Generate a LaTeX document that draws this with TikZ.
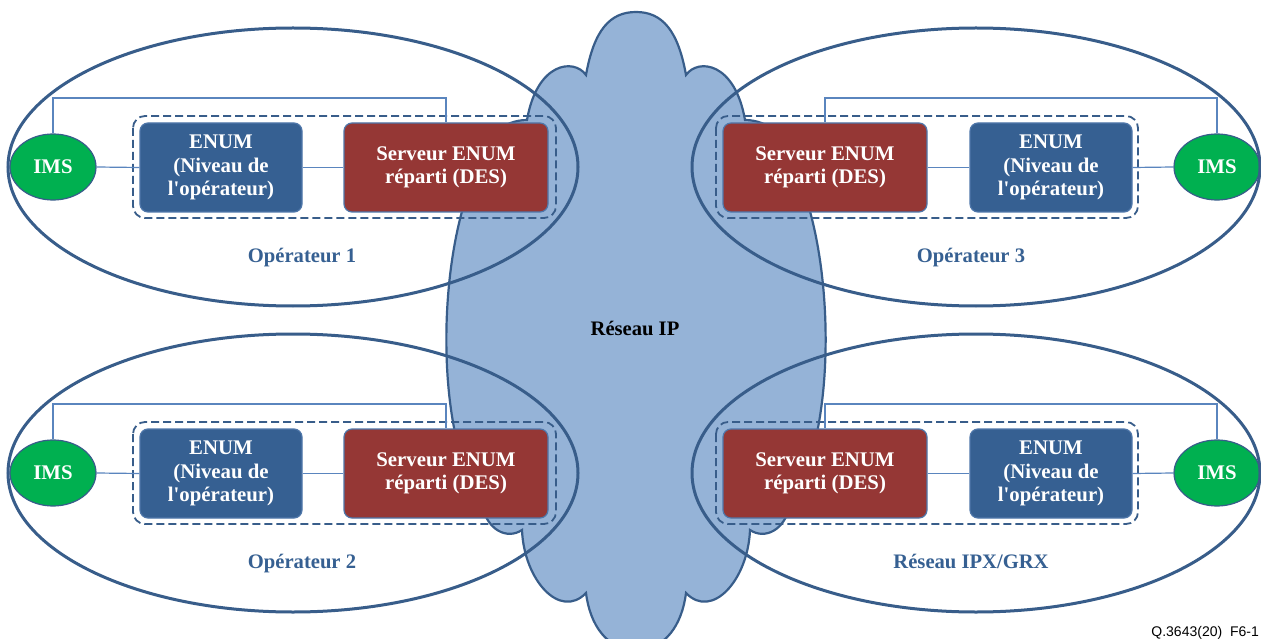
\documentclass[tikz,border=0pt]{standalone}
\usepackage{fontspec}
\setmainfont{Liberation Serif}[Ligatures=TeXOff]
\newfontfamily\notefont{Liberation Sans}
\usetikzlibrary{shapes.geometric}
\definecolor{edgeblue}{HTML}{385D8A}
\definecolor{cloudfill}{HTML}{95B3D7}
\definecolor{enumfill}{HTML}{366092}
\definecolor{servfill}{HTML}{953735}
\definecolor{imsfill}{HTML}{00B050}
\definecolor{linkblue}{HTML}{5A85BE}
\definecolor{boxedge}{HTML}{4F77AA}
\tikzset{
  boxtext/.style={font=\fontsize{20.8}{23.5}\selectfont\bfseries, text=white, align=center},
  enumbox/.style={boxtext, draw=boxedge, line width=1.2pt, fill=enumfill, rounded corners=8pt, minimum width=162pt, minimum height=89pt, inner sep=0pt},
  servbox/.style={boxtext, draw=boxedge, line width=1.2pt, fill=servfill, rounded corners=8pt, minimum width=204pt, minimum height=89pt, inner sep=0pt},
  imsnode/.style={ellipse, boxtext, draw=edgeblue, line width=1.2pt, fill=imsfill, minimum width=86pt, minimum height=66pt, inner sep=0pt},
  dashbox/.style={draw=edgeblue, line width=1.8pt, dash pattern=on 8pt off 4pt, rounded corners=12pt},
  link/.style={draw=linkblue, line width=1.2pt},
  opzone/.style={draw=edgeblue, line width=3pt},
  oplabel/.style={font=\fontsize{20.6}{24}\selectfont\bfseries, text=enumfill, anchor=base, inner sep=0pt},
}
\begin{document}
\begin{tikzpicture}[x=1pt, y=-1pt]
\clip (0,0) rectangle (1261,639);
\fill[white] (0,0) rectangle (1261,639);
% cloud
\draw[fill=cloudfill, draw=edgeblue, line width=2.2pt]
  (636,12) .. controls (662,12) and (678,30) .. (686,75)
  .. controls (698,58) and (735,62) .. (745,120)
  .. controls (770,120) and (790,140) .. (790,160)
  .. controls (835,240) and (840,430) .. (790,505)
  .. controls (785,530) and (765,540) .. (750,530)
  .. controls (748,580) and (712,620) .. (686,593)
  .. controls (682,625) and (665,650) .. (636,650)
  .. controls (607,650) and (590,625) .. (586,593)
  .. controls (560,620) and (524,580) .. (522,530)
  .. controls (507,540) and (487,530) .. (482,505)
  .. controls (432,430) and (437,240) .. (482,160)
  .. controls (482,140) and (502,120) .. (527,120)
  .. controls (537,62) and (574,58) .. (586,75)
  .. controls (594,30) and (610,12) .. (636,12) -- cycle;
\node[font=\fontsize{20.6}{24}\selectfont\bfseries, anchor=base, inner sep=0pt] (ip) at (635,335) {Réseau IP};

% coordinates for the upper connector lines
\coordinate (t1) at (0,98);
\coordinate (t2) at (0,404);

% Operateur 1
\draw[dashbox] (133,116) rectangle (556,218);
\node[imsnode] (ims1) at (53,167) {IMS};
\node[enumbox] (enum1) at (221,167.5) {ENUM\\(Niveau de\\l'opérateur)};
\node[servbox] (srv1) at (446,167.5) {Serveur ENUM\\réparti (DES)};
% Operateur 3
\draw[dashbox] (716,116) rectangle (1138,218);
\node[servbox] (srv3) at (825,167.5) {Serveur ENUM\\réparti (DES)};
\node[enumbox] (enum3) at (1051,167.5) {ENUM\\(Niveau de\\l'opérateur)};
\node[imsnode] (ims3) at (1217,167) {IMS};
% Operateur 2
\draw[dashbox] (133,422) rectangle (556,524);
\node[imsnode] (ims2) at (53,473) {IMS};
\node[enumbox] (enum2) at (221,473.5) {ENUM\\(Niveau de\\l'opérateur)};
\node[servbox] (srv2) at (446,473.5) {Serveur ENUM\\réparti (DES)};
% IPX/GRX
\draw[dashbox] (716,422) rectangle (1138,524);
\node[servbox] (srv4) at (825,473.5) {Serveur ENUM\\réparti (DES)};
\node[enumbox] (enum4) at (1051,473.5) {ENUM\\(Niveau de\\l'opérateur)};
\node[imsnode] (ims4) at (1217,473) {IMS};

% connectors
\draw[link] (ims1.east) -- (enum1.west);
\draw[link] (enum1.east) -- (srv1.west);
\draw[link] (ims1.north) -- (ims1.north |- t1) -| (srv1.north);
\draw[link] (srv3.east) -- (enum3.west);
\draw[link] (enum3.east) -- (ims3.west);
\draw[link] (ims3.north) -- (ims3.north |- t1) -| (srv3.north);
\draw[link] (ims2.east) -- (enum2.west);
\draw[link] (enum2.east) -- (srv2.west);
\draw[link] (ims2.north) -- (ims2.north |- t2) -| (srv2.north);
\draw[link] (srv4.east) -- (enum4.west);
\draw[link] (enum4.east) -- (ims4.west);
\draw[link] (ims4.north) -- (ims4.north |- t2) -| (srv4.north);

% domain ellipses
\draw[opzone] (293,167) ellipse [x radius=285, y radius=139];
\draw[opzone] (976,167) ellipse [x radius=284, y radius=139];
\draw[opzone] (293,473) ellipse [x radius=285, y radius=139];
\draw[opzone] (976,473) ellipse [x radius=284, y radius=139];

\node[oplabel] (l1) at (302,262) {Opérateur 1};
\node[oplabel] (l3) at (971,262) {Opérateur 3};
\node[oplabel] (l2) at (302,568) {Opérateur 2};
\node[oplabel] (l4) at (971,568) {Réseau IPX/GRX};

\node[font=\notefont\fontsize{14}{16}\selectfont, anchor=base east, inner sep=0pt] (ref) at (1259,636) {Q.3643(20)\ \ F6-1};
\end{tikzpicture}
\end{document}
